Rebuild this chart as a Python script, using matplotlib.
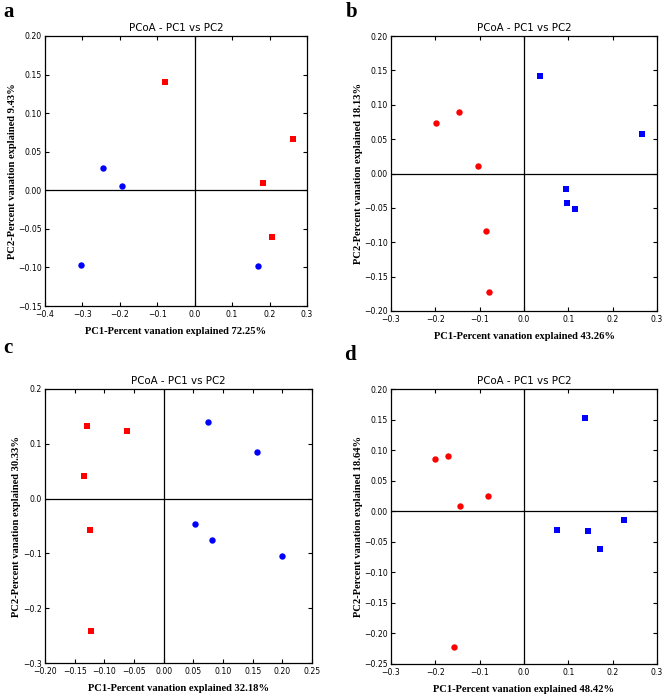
import numpy as np
import matplotlib
matplotlib.use('Agg')
import matplotlib.pyplot as plt

# ---- data ----
# panel a
a_red_x = [-0.080, 0.263, 0.183, 0.206]
a_red_y = [0.141, 0.067, 0.009, -0.061]
a_blue_x = [-0.244, -0.195, -0.304, 0.168]
a_blue_y = [0.029, 0.006, -0.097, -0.098]

# panel b
b_red_x = [-0.199, -0.147, -0.103, -0.086, -0.078]
b_red_y = [0.073, 0.089, 0.011, -0.083, -0.172]
b_blue_x = [0.037, 0.265, 0.095, 0.097, 0.114]
b_blue_y = [0.142, 0.057, -0.022, -0.043, -0.052]

# panel c
c_red_x = [-0.129, -0.062, -0.135, -0.125, -0.122]
c_red_y = [0.133, 0.124, 0.042, -0.057, -0.241]
c_blue_x = [0.075, 0.157, 0.052, 0.082, 0.199]
c_blue_y = [0.139, 0.085, -0.046, -0.075, -0.105]

# panel d
d_red_x = [-0.201, -0.172, -0.145, -0.082, -0.159]
d_red_y = [0.085, 0.091, 0.008, 0.025, -0.222]
d_blue_x = [0.138, 0.074, 0.144, 0.172, 0.226]
d_blue_y = [0.152, -0.030, -0.032, -0.061, -0.015]

pc1_pct = ['72.25%', '43.26%', '32.18%', '48.42%']
pc2_pct = ['9.43%', '18.13%', '30.33%', '18.64%']
letters = ['a', 'b', 'c', 'd']

serif = 'Liberation Serif'


def tick_text(vals, fmt):
    # round away float noise so 0 never shows as -0.0
    out = []
    for v in vals:
        v = round(float(v), 4) + 0.0
        out.append(fmt.format(v).replace('-', '\u2212'))
    return out


def draw_panel(ax, red, blue, red_marker, blue_marker, xlim, ylim, xticks, yticks, xfmt, yfmt, xl, yl):
    ax.plot(red[0], red[1], red_marker, color='red', ms=4.6, mew=0, ls='none', zorder=3)
    ax.plot(blue[0], blue[1], blue_marker, color='blue', ms=4.6, mew=0, ls='none', zorder=3)
    ax.axhline(0, color='black', lw=0.9)
    ax.axvline(0, color='black', lw=0.9)
    ax.set_xlim(xlim)
    ax.set_ylim(ylim)
    ax.set_xticks(xticks)
    ax.set_yticks(yticks)
    ax.set_xticklabels(tick_text(xticks, xfmt))
    ax.set_yticklabels(tick_text(yticks, yfmt))
    ax.tick_params(direction='in', length=3, width=0.8, labelsize=5.6,
                   top=True, right=True)
    ax.tick_params(axis='x', pad=3.2)
    ax.tick_params(axis='y', pad=2.4)
    for s in ax.spines.values():
        s.set_linewidth(0.9)
    ax.set_title('PCoA - PC1 vs PC2', fontsize=7.4, pad=3.5)
    ax.set_xlabel('PC1-Percent vanation explained ' + xl, family=serif,
                  fontweight='bold', fontsize=7.6, labelpad=5.5)
    ax.set_ylabel('PC2-Percent vanation explained ' + yl, family=serif,
                  fontweight='bold', fontsize=7.6, labelpad=1)


fig = plt.figure(figsize=(6.69, 6.96), dpi=100)

ax_a = fig.add_axes([0.0673, 0.5603, 0.3916, 0.388])
ax_b = fig.add_axes([0.5845, 0.5532, 0.3976, 0.395])
ax_c = fig.add_axes([0.0673, 0.0474, 0.3990, 0.3937])
ax_d = fig.add_axes([0.5845, 0.0460, 0.3976, 0.395])

draw_panel(ax_a, (a_red_x, a_red_y), (a_blue_x, a_blue_y), 's', 'o',
           (-0.4, 0.3), (-0.15, 0.20),
           np.arange(-0.4, 0.31, 0.1), np.arange(-0.15, 0.201, 0.05),
           '{:.1f}', '{:.2f}', pc1_pct[0], pc2_pct[0])
draw_panel(ax_b, (b_red_x, b_red_y), (b_blue_x, b_blue_y), 'o', 's',
           (-0.3, 0.3), (-0.20, 0.20),
           np.arange(-0.3, 0.31, 0.1), np.arange(-0.20, 0.201, 0.05),
           '{:.1f}', '{:.2f}', pc1_pct[1], pc2_pct[1])
draw_panel(ax_c, (c_red_x, c_red_y), (c_blue_x, c_blue_y), 's', 'o',
           (-0.20, 0.25), (-0.3, 0.2),
           np.arange(-0.20, 0.251, 0.05), np.arange(-0.3, 0.21, 0.1),
           '{:.2f}', '{:.1f}', pc1_pct[2], pc2_pct[2])
draw_panel(ax_d, (d_red_x, d_red_y), (d_blue_x, d_blue_y), 'o', 's',
           (-0.3, 0.3), (-0.25, 0.20),
           np.arange(-0.3, 0.31, 0.1), np.arange(-0.25, 0.201, 0.05),
           '{:.1f}', '{:.2f}', pc1_pct[3], pc2_pct[3])

# panel letters
fig.text(3 / 669, 1 - 17 / 696, letters[0], family=serif, fontweight='bold', fontsize=15)
fig.text(346 / 669, 1 - 17 / 696, letters[1], family=serif, fontweight='bold', fontsize=15)
fig.text(3 / 669, 1 - 353 / 696, letters[2], family=serif, fontweight='bold', fontsize=15)
fig.text(344 / 669, 1 - 360 / 696, letters[3], family=serif, fontweight='bold', fontsize=15)

fig.savefig('out.png', dpi=100)
